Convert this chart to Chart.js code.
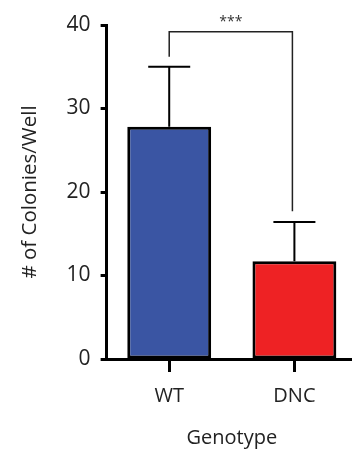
<!DOCTYPE html>
<html>
<head>
<meta charset="utf-8">
<script src="https://cdn.jsdelivr.net/npm/chart.js@4/dist/chart.umd.min.js"></script>
<style>
  html, body { margin: 0; padding: 0; background: #fff; overflow: hidden; }
  #wrap { width: 360px; height: 455px; }
</style>
</head>
<body>
<div id="wrap"><canvas id="colonyChart" width="360" height="455"></canvas></div>
<script>
// data
const genotypes = ['WT', 'DNC'];
const colonyMeans = [27.8, 11.7];
const colonyErrors = [7.2, 4.7];
const barColors = ['#3A55A3', '#EE2224'];
const yTicks = [0, 10, 20, 30, 40];
// significance bracket: top level, then where each leg ends
const bracketTop = 39.2;
const bracketEnds = [36.2, 17.7];
const sigLabel = '***';

const fontFamily = '"Open Sans", "Liberation Sans", sans-serif';

// draws the upper error bars and the significance bracket
const extrasPlugin = {
    id: 'extras',
    afterDatasetsDraw(chart) {
        const ctx = chart.ctx;
        const x = chart.scales.x;
        const y = chart.scales.y;
        ctx.save();
        ctx.strokeStyle = '#000';
        ctx.lineWidth = 2;
        colonyMeans.forEach((m, i) => {
            const cx = x.getPixelForValue(i);
            const yTop = y.getPixelForValue(m + colonyErrors[i]);
            const yBar = y.getPixelForValue(m);
            ctx.beginPath();
            ctx.moveTo(cx, yBar);
            ctx.lineTo(cx, yTop);
            ctx.moveTo(cx - 21, yTop);
            ctx.lineTo(cx + 21, yTop);
            ctx.stroke();
        });

        const x0 = x.getPixelForValue(0);
        const x1 = x.getPixelForValue(1) - 2;
        const yb = y.getPixelForValue(bracketTop);
        ctx.strokeStyle = '#222';
        ctx.lineWidth = 1.5;
        ctx.beginPath();
        ctx.moveTo(x0, y.getPixelForValue(bracketEnds[0]));
        ctx.lineTo(x0, yb);
        ctx.lineTo(x1, yb);
        ctx.lineTo(x1, y.getPixelForValue(bracketEnds[1]));
        ctx.stroke();

        ctx.fillStyle = '#333';
        ctx.font = '14px ' + fontFamily;
        ctx.textAlign = 'center';
        ctx.textBaseline = 'bottom';
        ctx.fillText(sigLabel, (x0 + x1) / 2, yb - 3);
        ctx.restore();
    }
};

function generateChart() {
    const ctx = document.getElementById('colonyChart').getContext('2d');

    const chartData = {
        labels: genotypes,
        datasets: [{
            data: colonyMeans,
            backgroundColor: barColors,
            borderColor: '#000',
            borderWidth: 3,
            borderSkipped: false,
            barPercentage: 0.67,
            categoryPercentage: 1
        }]
    };

    const chartOptions = {
        responsive: false,
        animation: false,
        layout: { padding: { top: 25, right: 3, left: 14, bottom: 1 } },
        plugins: { legend: { display: false }, tooltip: { enabled: false } },
        scales: {
            x: {
                offset: true,
                grid: { display: true, drawOnChartArea: false, offset: false, tickLength: 13, tickWidth: 3, tickColor: '#000' },
                border: { color: '#000', width: 3 },
                ticks: { color: '#222', font: { size: 20, family: fontFamily }, padding: 12 },
                title: { display: true, text: 'Genotype', color: '#222', font: { size: 20, family: fontFamily }, padding: { top: 6 } }
            },
            y: {
                min: 0,
                max: 40,
                afterBuildTicks(axis) { axis.ticks = yTicks.map(v => ({ value: v })); },
                grid: { display: true, drawOnChartArea: false, tickLength: 6, tickWidth: 3, tickColor: '#000' },
                border: { color: '#000', width: 3 },
                ticks: { color: '#222', font: { size: 21, family: fontFamily }, padding: 10 },
                title: { display: true, text: '# of Colonies/Well', color: '#222', font: { size: 20.5, family: fontFamily }, padding: { bottom: 14 } }
            }
        }
    };

    new Chart(ctx, {
        type: 'bar',
        data: chartData,
        options: chartOptions,
        plugins: [extrasPlugin]
    });
}

generateChart();
</script>
</body>
</html>
